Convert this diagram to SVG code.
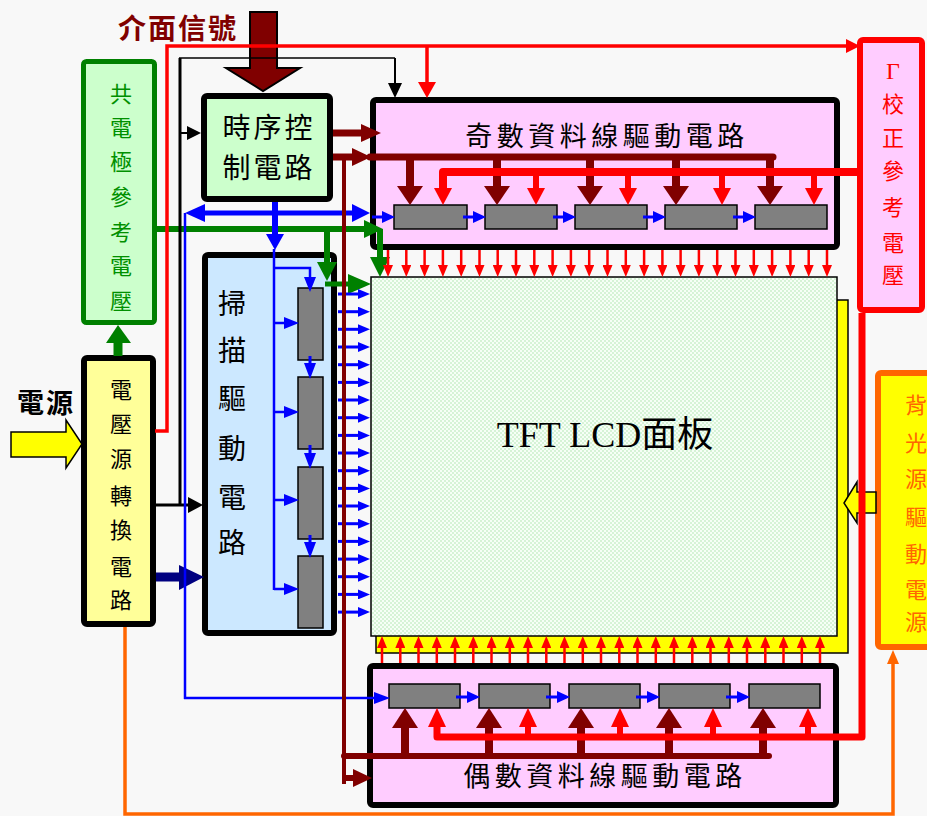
<svg xmlns="http://www.w3.org/2000/svg" width="927" height="816" viewBox="0 0 927 816">
<defs>
<style>
.cjk{font-family:"Noto Sans CJK TC","Noto Sans CJK SC",sans-serif;}
.bx{stroke:#000;stroke-width:6;}
.gb{fill:#808080;stroke:#000;stroke-width:1.5;}
.rs{stroke:#f00;stroke-width:2.5;marker-end:url(#hr);}
.bs{stroke:#00f;stroke-width:3;marker-end:url(#hb);}
.dr{fill:#800000;}
.rd{fill:#f00;}
.bl{fill:#00f;}
.gr{fill:#008000;}
</style>
<marker id="hr" viewBox="0 0 12 10" refX="1" refY="5" markerWidth="12" markerHeight="10" markerUnits="userSpaceOnUse" orient="auto"><path d="M0,0L12,5L0,10z" fill="#f00"/></marker>
<marker id="hb" viewBox="0 0 12 10" refX="1" refY="5" markerWidth="12" markerHeight="10" markerUnits="userSpaceOnUse" orient="auto"><path d="M0,0L12,5L0,10z" fill="#00f"/></marker>
<pattern id="chk" width="4" height="4" patternUnits="userSpaceOnUse"><rect width="4" height="4" fill="#f6fff6"/><rect width="2" height="2" fill="#d6f3d6"/><rect x="2" y="2" width="2" height="2" fill="#d6f3d6"/></pattern>
</defs>
<rect width="927" height="816" fill="#f8f8f8"/>

<g id="interface-signal-label">
<text x="178" y="39" class="cjk" font-size="28" font-weight="bold" fill="#800000" text-anchor="middle" letter-spacing="2">介面信號</text>
</g>
<g id="power-label">
<text x="46" y="413" class="cjk" font-size="27" font-weight="bold" fill="#000" text-anchor="middle" letter-spacing="2">電源</text>
</g>

<g id="common-electrode">
<rect x="83.5" y="61.5" width="71" height="261" rx="3" fill="#ccffcc" stroke="#008000" stroke-width="5"/>
<text class="cjk" font-size="22" fill="#009000" text-anchor="middle">
<tspan x="121" y="102">共</tspan><tspan x="121" y="136">電</tspan><tspan x="121" y="170">極</tspan><tspan x="121" y="205">參</tspan><tspan x="121" y="240">考</tspan><tspan x="121" y="274">電</tspan><tspan x="121" y="309">壓</tspan>
</text>
</g>

<g id="voltage-converter">
<rect x="84" y="358" width="69" height="266" rx="3" fill="#ffff99" class="bx"/>
<text class="cjk" font-size="22" fill="#000" text-anchor="middle">
<tspan x="121" y="398">電</tspan><tspan x="121" y="432">壓</tspan><tspan x="121" y="467">源</tspan><tspan x="121" y="504">轉</tspan><tspan x="121" y="538">換</tspan><tspan x="121" y="575">電</tspan><tspan x="121" y="608">路</tspan>
</text>
</g>

<g id="timing-controller">
<rect x="204" y="96" width="126" height="103" rx="3" fill="#ccffcc" class="bx"/>
<text class="cjk" font-size="28" fill="#000" text-anchor="middle" letter-spacing="3">
<tspan x="269" y="138">時序控</tspan><tspan x="269" y="178">制電路</tspan>
</text>
</g>

<g id="scan-driver">
<rect x="205" y="255" width="129" height="378" rx="3" fill="#cce8ff" class="bx"/>
<text class="cjk" font-size="28" fill="#000" text-anchor="middle">
<tspan x="232" y="314">掃</tspan><tspan x="232" y="361">描</tspan><tspan x="232" y="409">驅</tspan><tspan x="232" y="459">動</tspan><tspan x="232" y="508">電</tspan><tspan x="232" y="553">路</tspan>
</text>
<rect class="gb" x="298" y="288" width="25" height="72"/>
<rect class="gb" x="298" y="377" width="25" height="72"/>
<rect class="gb" x="298" y="467" width="25" height="72"/>
<rect class="gb" x="298" y="556" width="25" height="72"/>
</g>

<g id="odd-data-driver">
<rect x="373" y="100" width="464" height="147" rx="3" fill="#ffccff" class="bx"/>
<text x="607" y="146" class="cjk" font-size="27" fill="#000" text-anchor="middle" letter-spacing="4.5">奇數資料線驅動電路</text>
<rect class="gb" x="394" y="205" width="73" height="24"/>
<rect class="gb" x="485" y="205" width="72" height="24"/>
<rect class="gb" x="575" y="205" width="72" height="24"/>
<rect class="gb" x="665" y="205" width="72" height="24"/>
<rect class="gb" x="755" y="205" width="72" height="24"/>
</g>

<g id="even-data-driver">
<rect x="370" y="666" width="466" height="139" rx="3" fill="#ffccff" class="bx"/>
<text x="605" y="786" class="cjk" font-size="27" fill="#000" text-anchor="middle" letter-spacing="4.5">偶數資料線驅動電路</text>
<rect class="gb" x="389" y="684" width="71" height="24"/>
<rect class="gb" x="479" y="684" width="71" height="24"/>
<rect class="gb" x="569" y="684" width="71" height="24"/>
<rect class="gb" x="659" y="684" width="71" height="24"/>
<rect class="gb" x="749" y="684" width="71" height="24"/>
</g>

<g id="tft-lcd-panel">
<rect x="376" y="300" width="472" height="353" fill="#ffff00" stroke="#000" stroke-width="1.5"/>
<rect x="371" y="277" width="466" height="359" fill="url(#chk)" stroke="#000" stroke-width="1.5"/>
<text x="605" y="447" font-family="Liberation Serif,Noto Sans CJK TC,serif" font-size="36" fill="#000" text-anchor="middle">TFT LCD面板</text>
</g>

<g id="gamma-reference">
<rect x="860" y="40" width="62" height="270" rx="3" fill="#ffccff" stroke="#f00" stroke-width="6"/>
<text x="893" y="79" font-family="Liberation Serif,serif" font-size="24" fill="#f00" text-anchor="middle">Γ</text>
<text class="cjk" font-size="22" fill="#f00" text-anchor="middle">
<tspan x="893" y="112">校</tspan><tspan x="893" y="146">正</tspan><tspan x="893" y="179">參</tspan><tspan x="893" y="215">考</tspan><tspan x="893" y="251">電</tspan><tspan x="893" y="283">壓</tspan>
</text>
</g>

<g id="backlight-driver">
<rect x="878" y="373" width="52" height="274" rx="3" fill="#ffff00" stroke="#ff6600" stroke-width="6"/>
<text class="cjk" font-size="22" fill="#ff6600" text-anchor="middle">
<tspan x="916" y="413">背</tspan><tspan x="916" y="451">光</tspan><tspan x="916" y="487">源</tspan><tspan x="916" y="525">驅</tspan><tspan x="916" y="562">動</tspan><tspan x="916" y="598">電</tspan><tspan x="916" y="630">源</tspan>
</text>
</g>

<g id="connectors">
<!-- power input -->
<polygon points="11,432 66,432 66,420 82,444 66,468 66,457 11,457" fill="#ffff00" stroke="#000" stroke-width="1.5"/>
<!-- backlight to panel -->
<polygon points="876,492 857,492 857,482 844,503 857,523 857,513 876,513" fill="#ffff00" stroke="#000" stroke-width="1.5"/>
<!-- interface signal big arrow -->
<polygon points="250,12 277,12 277,68 300,68 263,91 226,68 250,68" fill="#800000" stroke="#000" stroke-width="2"/>
<!-- orange backlight supply -->
<path d="M125,627 V814 H893 V663" fill="none" stroke="#ff6600" stroke-width="3.5"/>
<polygon points="887,664 899,664 893,650" fill="#ff6600"/>
<!-- green -->
<line x1="118" y1="356" x2="118" y2="340" stroke="#008000" stroke-width="9"/>
<polygon class="gr" points="106,343 131,343 118,325"/>
<line x1="157" y1="229" x2="366" y2="229" stroke="#008000" stroke-width="6"/>
<polygon class="gr" points="364,220 383,229 364,238"/>
<line x1="327" y1="229" x2="327" y2="264" stroke="#008000" stroke-width="6"/>
<polygon class="gr" points="317,262 337,262 327,281"/>
<line x1="325" y1="284" x2="350" y2="284" stroke="#008000" stroke-width="5"/>
<polygon class="gr" points="348,274 371,284 348,294"/>
<line x1="380" y1="229" x2="380" y2="259" stroke="#008000" stroke-width="6"/>
<polygon class="gr" points="370,257 390,257 380,277"/>
<!-- navy to scan -->
<line x1="156" y1="577" x2="182" y2="577" stroke="#000080" stroke-width="9"/>
<polygon points="179,565 204,577 179,590" fill="#000080"/>
<!-- black -->
<line x1="180" y1="58" x2="180" y2="506" stroke="#000" stroke-width="3"/>
<line x1="179" y1="58" x2="395" y2="58" stroke="#000" stroke-width="1.5"/>
<line x1="395" y1="58" x2="395" y2="85" stroke="#000" stroke-width="2"/>
<polygon points="388,83 402,83 395,98" fill="#000"/>
<line x1="180" y1="133" x2="190" y2="133" stroke="#000" stroke-width="2"/>
<polygon points="187,126 201,133 187,140" fill="#000"/>
<line x1="155" y1="505" x2="190" y2="505" stroke="#000" stroke-width="3"/>
<polygon points="188,497 203,505 188,513" fill="#000"/>
<!-- blue -->
<line x1="200" y1="213" x2="356" y2="213" stroke="#00f" stroke-width="5"/>
<polygon class="bl" points="205,204 185,213 205,222"/>
<polygon class="bl" points="352,204 370,213 352,222"/>
<line x1="275" y1="202" x2="275" y2="236" stroke="#00f" stroke-width="6"/>
<polygon class="bl" points="266,234 284,234 275,250"/>
<line x1="274" y1="249" x2="274" y2="590" stroke="#00f" stroke-width="2.5"/>
<path d="M274,268 H310 V279" fill="none" stroke="#00f" stroke-width="2.5"/>
<polygon class="bl" points="304,277 316,277 310,292"/>
<line x1="274" y1="323" x2="286" y2="323" stroke="#00f" stroke-width="2.5"/><polygon class="bl" points="284,317 299,323 284,329"/>
<line x1="274" y1="412" x2="286" y2="412" stroke="#00f" stroke-width="2.5"/><polygon class="bl" points="284,406 299,412 284,418"/>
<line x1="274" y1="500" x2="286" y2="500" stroke="#00f" stroke-width="2.5"/><polygon class="bl" points="284,494 299,500 284,506"/>
<line x1="274" y1="589" x2="286" y2="589" stroke="#00f" stroke-width="2.5"/><polygon class="bl" points="284,583 299,589 284,595"/>
<line x1="310" y1="356" x2="310" y2="365" stroke="#00f" stroke-width="3"/><polygon class="bl" points="304,363 316,363 310,379"/>
<line x1="310" y1="445" x2="310" y2="455" stroke="#00f" stroke-width="3"/><polygon class="bl" points="304,453 316,453 310,469"/>
<line x1="310" y1="535" x2="310" y2="544" stroke="#00f" stroke-width="3"/><polygon class="bl" points="304,542 316,542 310,558"/>
<line x1="185" y1="213" x2="185" y2="699" stroke="#00f" stroke-width="2.5"/>
<line x1="184" y1="698" x2="376" y2="698" stroke="#00f" stroke-width="2.5"/>
<polygon class="bl" points="374,692 390,698 374,704"/>
<!-- odd chain -->
<line x1="372" y1="217" x2="384" y2="217" stroke="#00f" stroke-width="3"/><polygon class="bl" points="382,211 395,217 382,223"/>
<line x1="463" y1="217" x2="475" y2="217" stroke="#00f" stroke-width="3"/><polygon class="bl" points="473,211 486,217 473,223"/>
<line x1="553" y1="217" x2="565" y2="217" stroke="#00f" stroke-width="3"/><polygon class="bl" points="563,211 576,217 563,223"/>
<line x1="643" y1="217" x2="655" y2="217" stroke="#00f" stroke-width="3"/><polygon class="bl" points="653,211 666,217 653,223"/>
<line x1="733" y1="217" x2="745" y2="217" stroke="#00f" stroke-width="3"/><polygon class="bl" points="743,211 756,217 743,223"/>
<!-- even chain -->
<line x1="456" y1="697" x2="469" y2="697" stroke="#00f" stroke-width="3"/><polygon class="bl" points="467,691 480,697 467,703"/>
<line x1="546" y1="697" x2="559" y2="697" stroke="#00f" stroke-width="3"/><polygon class="bl" points="557,691 570,697 557,703"/>
<line x1="636" y1="697" x2="649" y2="697" stroke="#00f" stroke-width="3"/><polygon class="bl" points="647,691 660,697 647,703"/>
<line x1="726" y1="697" x2="739" y2="697" stroke="#00f" stroke-width="3"/><polygon class="bl" points="737,691 750,697 737,703"/>
<!-- scan lines to panel -->
<line class="bs" x1="338" y1="294" x2="359" y2="294"/>
<line class="bs" x1="338" y1="311.7" x2="359" y2="311.7"/>
<line class="bs" x1="338" y1="329.3" x2="359" y2="329.3"/>
<line class="bs" x1="338" y1="347" x2="359" y2="347"/>
<line class="bs" x1="338" y1="364.7" x2="359" y2="364.7"/>
<line class="bs" x1="338" y1="382.4" x2="359" y2="382.4"/>
<line class="bs" x1="338" y1="400" x2="359" y2="400"/>
<line class="bs" x1="338" y1="417.7" x2="359" y2="417.7"/>
<line class="bs" x1="338" y1="435.4" x2="359" y2="435.4"/>
<line class="bs" x1="338" y1="453" x2="359" y2="453"/>
<line class="bs" x1="338" y1="470.7" x2="359" y2="470.7"/>
<line class="bs" x1="338" y1="488.4" x2="359" y2="488.4"/>
<line class="bs" x1="338" y1="506" x2="359" y2="506"/>
<line class="bs" x1="338" y1="523.7" x2="359" y2="523.7"/>
<line class="bs" x1="338" y1="541.4" x2="359" y2="541.4"/>
<line class="bs" x1="338" y1="559.1" x2="359" y2="559.1"/>
<line class="bs" x1="338" y1="576.7" x2="359" y2="576.7"/>
<line class="bs" x1="338" y1="594.4" x2="359" y2="594.4"/>
<line class="bs" x1="338" y1="612.1" x2="359" y2="612.1"/>
<!-- odd data lines to panel -->
<line class="rs" x1="388" y1="250" x2="388" y2="266"/>
<line class="rs" x1="406.3" y1="250" x2="406.3" y2="266"/>
<line class="rs" x1="424.6" y1="250" x2="424.6" y2="266"/>
<line class="rs" x1="442.9" y1="250" x2="442.9" y2="266"/>
<line class="rs" x1="461.2" y1="250" x2="461.2" y2="266"/>
<line class="rs" x1="479.5" y1="250" x2="479.5" y2="266"/>
<line class="rs" x1="497.7" y1="250" x2="497.7" y2="266"/>
<line class="rs" x1="516" y1="250" x2="516" y2="266"/>
<line class="rs" x1="534.3" y1="250" x2="534.3" y2="266"/>
<line class="rs" x1="552.6" y1="250" x2="552.6" y2="266"/>
<line class="rs" x1="570.9" y1="250" x2="570.9" y2="266"/>
<line class="rs" x1="589.2" y1="250" x2="589.2" y2="266"/>
<line class="rs" x1="607.5" y1="250" x2="607.5" y2="266"/>
<line class="rs" x1="625.8" y1="250" x2="625.8" y2="266"/>
<line class="rs" x1="644.1" y1="250" x2="644.1" y2="266"/>
<line class="rs" x1="662.4" y1="250" x2="662.4" y2="266"/>
<line class="rs" x1="680.6" y1="250" x2="680.6" y2="266"/>
<line class="rs" x1="698.9" y1="250" x2="698.9" y2="266"/>
<line class="rs" x1="717.2" y1="250" x2="717.2" y2="266"/>
<line class="rs" x1="735.5" y1="250" x2="735.5" y2="266"/>
<line class="rs" x1="753.8" y1="250" x2="753.8" y2="266"/>
<line class="rs" x1="772.1" y1="250" x2="772.1" y2="266"/>
<line class="rs" x1="790.4" y1="250" x2="790.4" y2="266"/>
<line class="rs" x1="808.7" y1="250" x2="808.7" y2="266"/>
<line class="rs" x1="827" y1="250" x2="827" y2="266"/>
<!-- even data lines to panel -->
<line class="rs" x1="382" y1="663" x2="382" y2="647"/>
<line class="rs" x1="400.3" y1="663" x2="400.3" y2="647"/>
<line class="rs" x1="418.5" y1="663" x2="418.5" y2="647"/>
<line class="rs" x1="436.8" y1="663" x2="436.8" y2="647"/>
<line class="rs" x1="455" y1="663" x2="455" y2="647"/>
<line class="rs" x1="473.3" y1="663" x2="473.3" y2="647"/>
<line class="rs" x1="491.5" y1="663" x2="491.5" y2="647"/>
<line class="rs" x1="509.8" y1="663" x2="509.8" y2="647"/>
<line class="rs" x1="528" y1="663" x2="528" y2="647"/>
<line class="rs" x1="546.3" y1="663" x2="546.3" y2="647"/>
<line class="rs" x1="564.5" y1="663" x2="564.5" y2="647"/>
<line class="rs" x1="582.8" y1="663" x2="582.8" y2="647"/>
<line class="rs" x1="601" y1="663" x2="601" y2="647"/>
<line class="rs" x1="619.3" y1="663" x2="619.3" y2="647"/>
<line class="rs" x1="637.5" y1="663" x2="637.5" y2="647"/>
<line class="rs" x1="655.8" y1="663" x2="655.8" y2="647"/>
<line class="rs" x1="674" y1="663" x2="674" y2="647"/>
<line class="rs" x1="692.3" y1="663" x2="692.3" y2="647"/>
<line class="rs" x1="710.5" y1="663" x2="710.5" y2="647"/>
<line class="rs" x1="728.8" y1="663" x2="728.8" y2="647"/>
<line class="rs" x1="747" y1="663" x2="747" y2="647"/>
<line class="rs" x1="765.3" y1="663" x2="765.3" y2="647"/>
<line class="rs" x1="783.5" y1="663" x2="783.5" y2="647"/>
<line class="rs" x1="801.8" y1="663" x2="801.8" y2="647"/>
<line class="rs" x1="820" y1="663" x2="820" y2="647"/>
<!-- dark red: timing to drivers -->
<line x1="333" y1="133" x2="364" y2="133" stroke="#800000" stroke-width="7"/>
<polygon class="dr" points="361,124 381,133 361,142"/>
<line x1="333" y1="157" x2="355" y2="157" stroke="#800000" stroke-width="7"/>
<polygon class="dr" points="352,148 371,157 352,166"/>
<line x1="370" y1="157" x2="773" y2="157" stroke="#800000" stroke-width="7" stroke-linecap="round"/>
<line x1="344" y1="157" x2="344" y2="784" stroke="#800000" stroke-width="4"/>
<line x1="410" y1="157" x2="410" y2="188" stroke="#800000" stroke-width="8"/><polygon class="dr" points="397,186 423,186 410,205"/>
<line x1="497" y1="157" x2="497" y2="188" stroke="#800000" stroke-width="8"/><polygon class="dr" points="484,186 510,186 497,205"/>
<line x1="590" y1="157" x2="590" y2="188" stroke="#800000" stroke-width="8"/><polygon class="dr" points="577,186 603,186 590,205"/>
<line x1="676" y1="157" x2="676" y2="188" stroke="#800000" stroke-width="8"/><polygon class="dr" points="663,186 689,186 676,205"/>
<line x1="770" y1="157" x2="770" y2="188" stroke="#800000" stroke-width="8"/><polygon class="dr" points="757,186 783,186 770,205"/>
<line x1="344" y1="756" x2="769" y2="756" stroke="#800000" stroke-width="6" stroke-linecap="round"/>
<line x1="405" y1="756" x2="405" y2="726" stroke="#800000" stroke-width="8"/><polygon class="dr" points="392,728 418,728 405,708"/>
<line x1="489" y1="756" x2="489" y2="726" stroke="#800000" stroke-width="8"/><polygon class="dr" points="476,728 502,728 489,708"/>
<line x1="581" y1="756" x2="581" y2="726" stroke="#800000" stroke-width="8"/><polygon class="dr" points="568,728 594,728 581,708"/>
<line x1="669" y1="756" x2="669" y2="726" stroke="#800000" stroke-width="8"/><polygon class="dr" points="656,728 682,728 669,708"/>
<line x1="763" y1="756" x2="763" y2="726" stroke="#800000" stroke-width="8"/><polygon class="dr" points="750,728 776,728 763,708"/>
<line x1="344" y1="778" x2="356" y2="778" stroke="#800000" stroke-width="6"/>
<polygon class="dr" points="353,769 372,778 353,787"/>
<!-- red: top loop to gamma -->
<path d="M155,431 H167 V46 H847" fill="none" stroke="#f00" stroke-width="3.5"/>
<polygon class="rd" points="846,39 860,46 846,53"/>
<line x1="427" y1="46" x2="427" y2="84" stroke="#f00" stroke-width="3.5"/>
<polygon class="rd" points="418,82 436,82 427,98"/>
<!-- red: gamma reference to drivers -->
<path d="M858,172 H443 V190" fill="none" stroke="#f00" stroke-width="8" stroke-linejoin="round"/>
<line x1="536" y1="172" x2="536" y2="190" stroke="#f00" stroke-width="6"/>
<line x1="628" y1="172" x2="628" y2="190" stroke="#f00" stroke-width="6"/>
<line x1="722" y1="172" x2="722" y2="190" stroke="#f00" stroke-width="6"/>
<line x1="814" y1="172" x2="814" y2="190" stroke="#f00" stroke-width="6"/>
<polygon class="rd" points="434,188 452,188 443,205"/>
<polygon class="rd" points="527,188 545,188 536,205"/>
<polygon class="rd" points="619,188 637,188 628,205"/>
<polygon class="rd" points="713,188 731,188 722,205"/>
<polygon class="rd" points="805,188 823,188 814,205"/>
<path d="M862,313 V737 H437 V725" fill="none" stroke="#f00" stroke-width="7" stroke-linejoin="round"/>
<line x1="528" y1="737" x2="528" y2="725" stroke="#f00" stroke-width="6"/>
<line x1="620" y1="737" x2="620" y2="725" stroke="#f00" stroke-width="6"/>
<line x1="713" y1="737" x2="713" y2="725" stroke="#f00" stroke-width="6"/>
<line x1="808" y1="737" x2="808" y2="725" stroke="#f00" stroke-width="6"/>
<polygon class="rd" points="428,727 446,727 437,708"/>
<polygon class="rd" points="519,727 537,727 528,708"/>
<polygon class="rd" points="611,727 629,727 620,708"/>
<polygon class="rd" points="704,727 722,727 713,708"/>
<polygon class="rd" points="799,727 817,727 808,708"/>
</g>
</svg>
